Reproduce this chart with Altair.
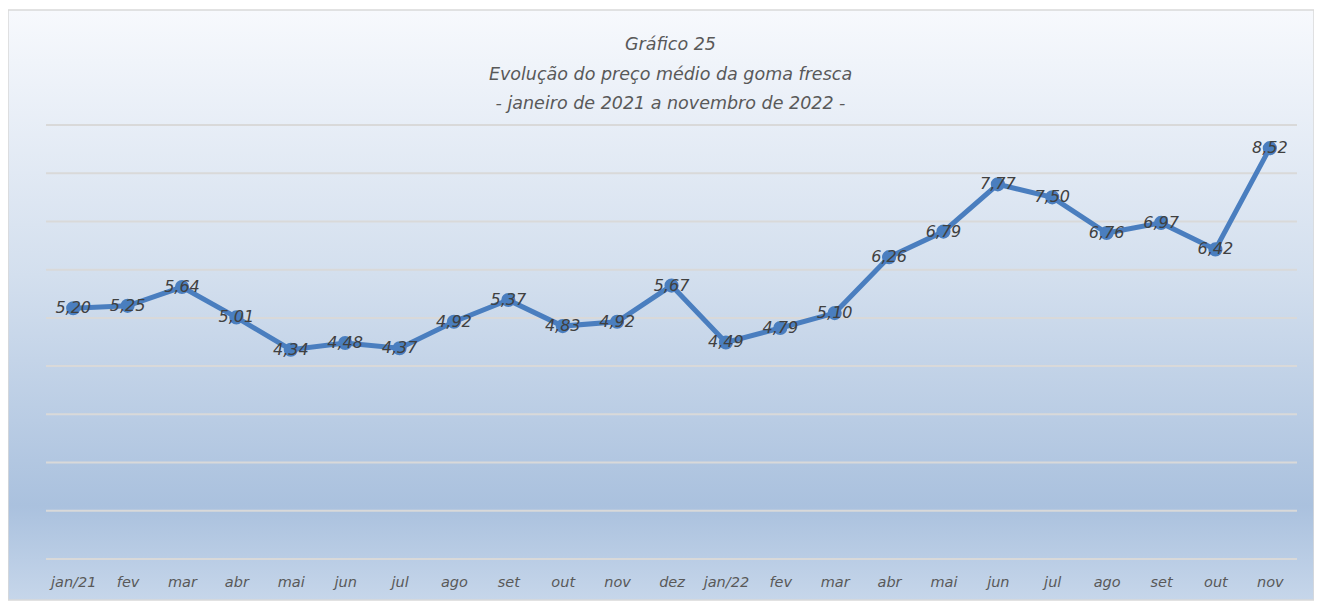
import altair as alt
import pandas as pd

months = ["jan/21", "fev", "mar", "abr", "mai", "jun", "jul", "ago", "set", "out",
          "nov", "dez", "jan/22", "fev", "mar", "abr", "mai", "jun", "jul", "ago",
          "set", "out", "nov"]
prices = [5.20, 5.25, 5.64, 5.01, 4.34, 4.48, 4.37, 4.92, 5.37, 4.83, 4.92, 5.67,
          4.49, 4.79, 5.10, 6.26, 6.79, 7.77, 7.50, 6.76, 6.97, 6.42, 8.52]
grid_values = [0, 1, 2, 3, 4, 5, 6, 7, 8, 9]
title_lines = ["Gráfico 25",
               "Evolução do preço médio da goma fresca",
               "- janeiro de 2021 a novembro de 2022 -"]

W, H = 1251, 434
FONT = "DejaVu Sans"
LINE_COLOR = "#4a7ebf"

df = pd.DataFrame({"idx": list(range(len(months))), "month": months, "price": prices})
grid_df = pd.DataFrame({"g": grid_values})
title_df = pd.DataFrame({"t": title_lines, "row": [0, 1, 2]})
one = pd.DataFrame({"a": [0]})

label_expr = "[" + ",".join("'" + m + "'" for m in months) + "][datum.value]"

x_enc = alt.X("idx:O", scale=alt.Scale(type="point", padding=0.5),
              axis=alt.Axis(title=None, labelExpr=label_expr, labelAngle=0,
                            ticks=False, domain=False, labelPadding=16, zindex=2,
                            labelFont=FONT, labelFontStyle="italic",
                            labelFontSize=14.5, labelColor="#595959"))
y_scale = alt.Scale(domain=[0, 9], nice=False, zero=True)

gradient = alt.LinearGradient(
    gradient="linear", x1=0, x2=0, y1=0, y2=1,
    stops=[alt.GradientStop(offset=0, color="#f7f9fd"),
           alt.GradientStop(offset=0.45, color="#d3dfee"),
           alt.GradientStop(offset=0.84, color="#aac1de"),
           alt.GradientStop(offset=1, color="#c6d6ea")])

bg = alt.Chart(one).mark_rect(fill=gradient, stroke="#d9d9d9", strokeWidth=1.5).encode(
    x=alt.value(-38), x2=alt.value(W + 17), y=alt.value(-115), y2=alt.value(H + 41))

grid = alt.Chart(grid_df).mark_rule(color="#d9d9d9", strokeWidth=2).encode(
    x=alt.value(0), x2=alt.value(W),
    y=alt.Y("g:Q", scale=y_scale, axis=None))

line = alt.Chart(df).mark_line(color=LINE_COLOR, strokeWidth=5).encode(
    x=x_enc, y=alt.Y("price:Q", scale=y_scale, axis=None))

pts = alt.Chart(df).mark_circle(color=LINE_COLOR, size=200, opacity=1).encode(
    x=x_enc, y=alt.Y("price:Q", scale=y_scale, axis=None))

labels = alt.Chart(df).transform_calculate(
    lab="replace(format(datum.price, '.2f'), '.', ',')"
).mark_text(font=FONT, fontStyle="italic", fontSize=16, color="#404040",
            baseline="middle", dy=0).encode(
    x=x_enc, y=alt.Y("price:Q", scale=y_scale, axis=None), text="lab:N")

titles = alt.Chart(title_df).transform_calculate(
    yy="-80 + datum.row * 29.5"
).mark_text(font=FONT, fontStyle="italic", fontSize=17.5, color="#595959",
            baseline="middle", align="center").encode(
    x=alt.value(W / 2 - 1), y=alt.Y("yy:Q", scale=None), text="t:N")

chart = alt.layer(bg, grid, line, pts, labels, titles).properties(
    width=W, height=H,
    autosize=alt.AutoSizeParams(type="none"),
    padding={"left": 38, "top": 117, "right": 17, "bottom": 42},
    background="white",
).configure_view(stroke=None)

chart.save("out.html", embed_options={"renderer": "svg", "actions": False})
